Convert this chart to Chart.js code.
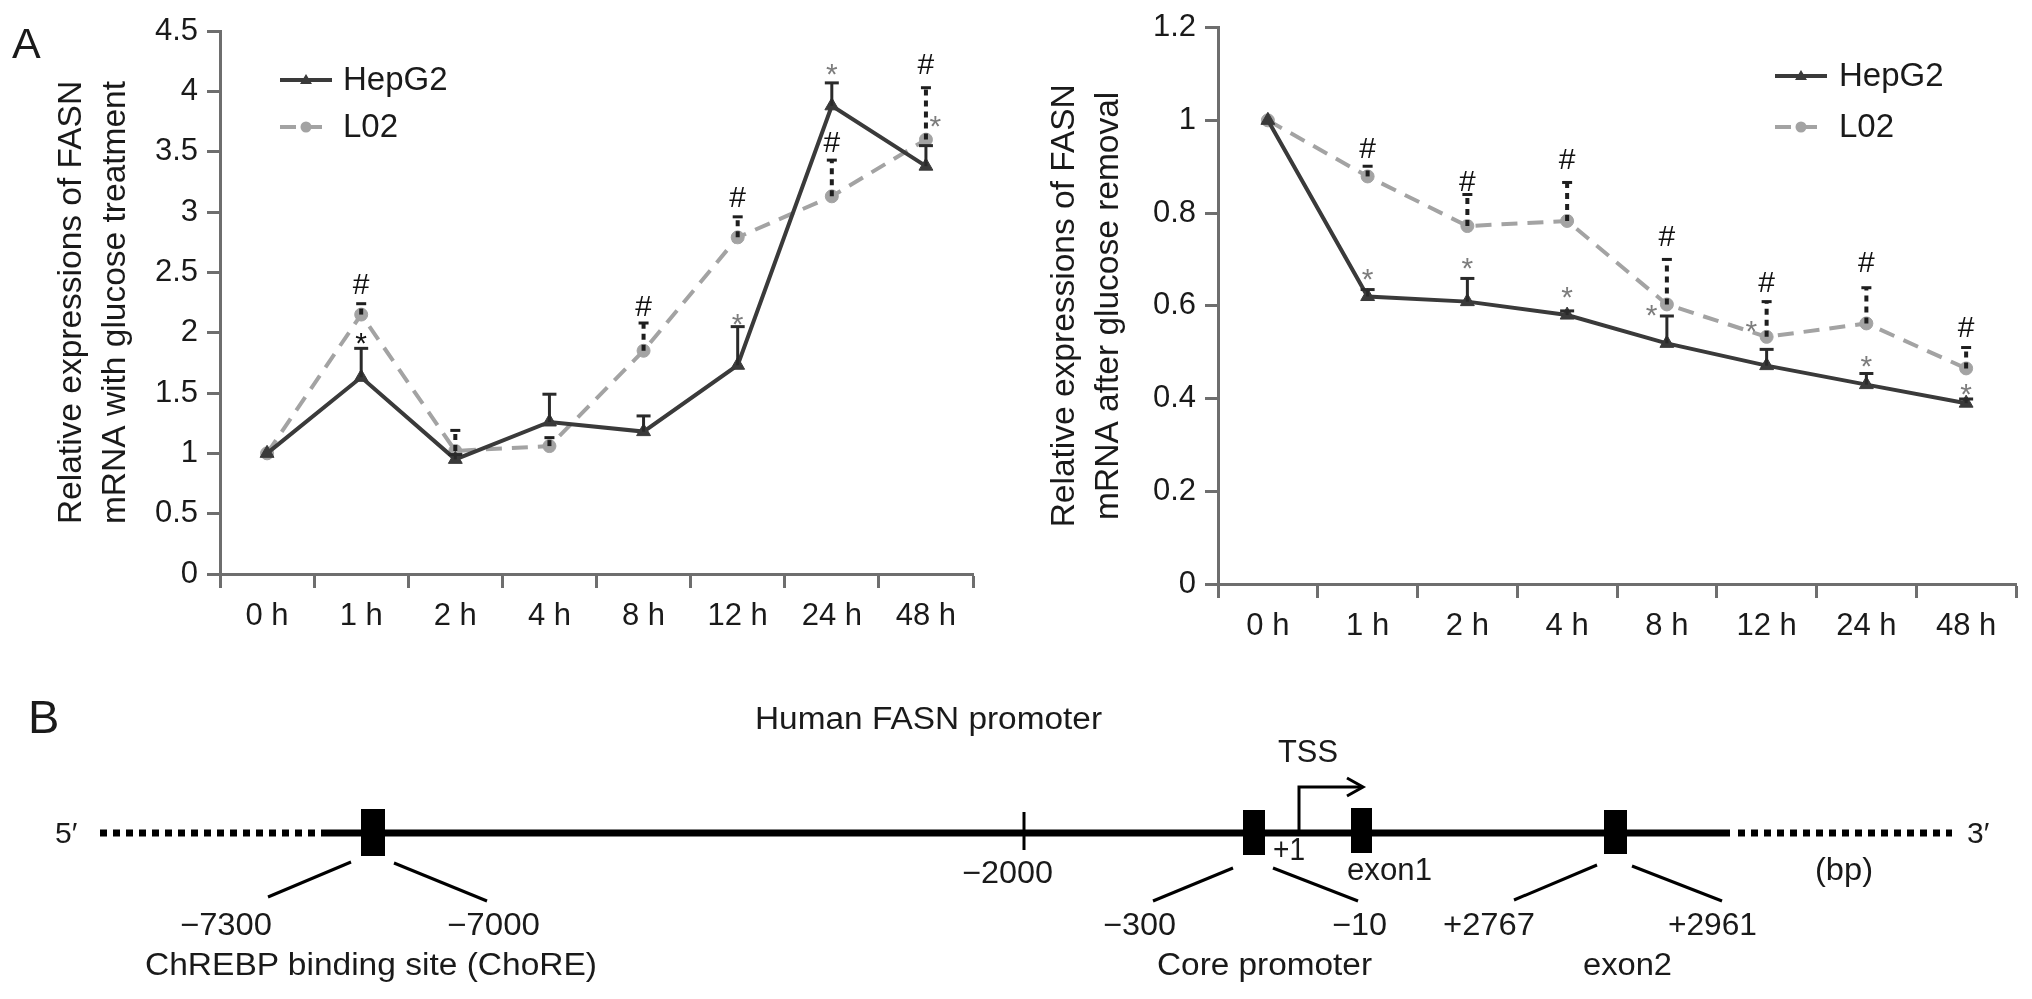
<!DOCTYPE html>
<html>
<head>
<meta charset="utf-8">
<script src="https://cdn.jsdelivr.net/npm/chart.js@4.4.1/dist/chart.umd.min.js"></script>
<style>
  html, body { margin: 0; padding: 0; background: #ffffff; }
  body { width: 2032px; height: 999px; position: relative; overflow: hidden; font-family: 'Liberation Sans', Arial, sans-serif; }
  canvas { position: absolute; }
  svg { position: absolute; left: 0; top: 0; }
</style>
</head>
<body>
<canvas id="left" width="1000" height="660" style="left:0px;top:0px;width:1000px;height:660px"></canvas>
<canvas id="right" width="1032" height="660" style="left:1000px;top:0px;width:1032px;height:660px"></canvas>
<svg width="2032" height="999" viewBox="0 0 2032 999" xmlns="http://www.w3.org/2000/svg">
  <g font-family="'Liberation Sans', Arial, sans-serif" fill="#1a1a1a">
    <text x="12" y="58" font-size="43">A</text>
    <text x="28" y="733" font-size="47">B</text>
    <text x="755" y="729" font-size="31" textLength="347" lengthAdjust="spacingAndGlyphs">Human FASN promoter</text>
    <text x="1278" y="762" font-size="31" textLength="60" lengthAdjust="spacingAndGlyphs">TSS</text>
    <text x="55" y="843" font-size="30">5′</text>
    <text x="1967" y="843" font-size="30">3′</text>
    <text x="962" y="883" font-size="31" textLength="91" lengthAdjust="spacingAndGlyphs">−2000</text>
    <text x="1273" y="860" font-size="31" textLength="32" lengthAdjust="spacingAndGlyphs">+1</text>
    <text x="1347" y="880" font-size="31" textLength="85" lengthAdjust="spacingAndGlyphs">exon1</text>
    <text x="1815" y="880" font-size="31" textLength="58" lengthAdjust="spacingAndGlyphs">(bp)</text>
    <text x="180" y="935" font-size="31" textLength="92" lengthAdjust="spacingAndGlyphs">−7300</text>
    <text x="447" y="935" font-size="31" textLength="93" lengthAdjust="spacingAndGlyphs">−7000</text>
    <text x="1103" y="935" font-size="31" textLength="73" lengthAdjust="spacingAndGlyphs">−300</text>
    <text x="1332" y="935" font-size="31" textLength="55" lengthAdjust="spacingAndGlyphs">−10</text>
    <text x="1443" y="935" font-size="31" textLength="92" lengthAdjust="spacingAndGlyphs">+2767</text>
    <text x="1668" y="935" font-size="31" textLength="89" lengthAdjust="spacingAndGlyphs">+2961</text>
    <text x="145" y="975" font-size="31" textLength="452" lengthAdjust="spacingAndGlyphs">ChREBP binding site (ChoRE)</text>
    <text x="1157" y="975" font-size="31" textLength="215" lengthAdjust="spacingAndGlyphs">Core promoter</text>
    <text x="1583" y="975" font-size="31" textLength="89" lengthAdjust="spacingAndGlyphs">exon2</text>
  </g>
  <g stroke="#000" fill="none">
    <line x1="100" y1="833" x2="328" y2="833" stroke-width="7" stroke-dasharray="7,6"/>
    <line x1="328" y1="833" x2="1730" y2="833" stroke-width="7"/>
    <line x1="1738" y1="833" x2="1952" y2="833" stroke-width="7" stroke-dasharray="7,6"/>
    <line x1="1024" y1="812" x2="1024" y2="850" stroke-width="3"/>
    <path d="M1299,832 V787 H1361" stroke-width="3"/>
    <path d="M1347,778 L1363,787 L1347,796" stroke-width="3"/>
    <line x1="351" y1="862" x2="268" y2="897" stroke-width="3"/>
    <line x1="394" y1="863" x2="487" y2="901" stroke-width="3"/>
    <line x1="1233" y1="868" x2="1153" y2="901" stroke-width="3"/>
    <line x1="1273" y1="868" x2="1358" y2="901" stroke-width="3"/>
    <line x1="1597" y1="865" x2="1514" y2="900" stroke-width="3"/>
    <line x1="1632" y1="866" x2="1722" y2="901" stroke-width="3"/>
  </g>
  <g fill="#000">
    <rect x="361" y="809" width="24" height="47"/>
    <rect x="1243" y="810" width="22" height="45"/>
    <rect x="1351" y="808" width="21" height="45"/>
    <rect x="1604" y="810" width="23" height="44"/>
  </g>
</svg>
<script>
// ---------------- data ----------------
const categories = ['0 h', '1 h', '2 h', '4 h', '8 h', '12 h', '24 h', '48 h'];
const seriesNames = ['HepG2', 'L02'];

// Panel A left: glucose treatment
const leftHepG2       = [1.00, 1.63, 0.95, 1.26, 1.18, 1.73, 3.88, 3.38];
const leftHepG2ErrTop = [1.00, 1.87, 0.99, 1.49, 1.31, 2.05, 4.07, 3.55];
const leftL02         = [1.00, 2.15, 1.02, 1.06, 1.85, 2.79, 3.13, 3.60];
const leftL02ErrTop   = [1.00, 2.24, 1.19, 1.13, 2.08, 2.96, 3.43, 4.03];
const leftTickValues  = [0, 0.5, 1, 1.5, 2, 2.5, 3, 3.5, 4, 4.5];
const leftTitle = ['Relative expressions of FASN', 'mRNA with glucose treatment'];

// Panel A right: glucose removal
const rightHepG2       = [1.00, 0.620, 0.609, 0.580, 0.519, 0.471, 0.430, 0.390];
const rightHepG2ErrTop = [1.00, 0.635, 0.659, 0.589, 0.578, 0.506, 0.454, 0.399];
const rightL02         = [1.00, 0.879, 0.772, 0.783, 0.603, 0.533, 0.562, 0.465];
const rightL02ErrTop   = [1.00, 0.901, 0.840, 0.866, 0.700, 0.609, 0.639, 0.510];
const rightTickValues  = [0, 0.2, 0.4, 0.6, 0.8, 1, 1.2];
const rightTitle = ['Relative expressions of FASN', 'mRNA after glucose removal'];

// significance marks: category index, symbol, value level, side, tone
const leftMarkCat  = [1, 1, 4, 5, 5, 6, 6, 7, 7];
const leftMarkSym  = ['#', '*', '#', '#', '*', '*', '#', '#', '*'];
const leftMarkVal  = [2.41, 1.97, 2.23, 3.13, 2.13, 4.20, 3.59, 4.23, 3.77];
const leftMarkSide = ['c', 'c', 'c', 'c', 'c', 'c', 'c', 'c', 'r'];
const leftMarkTone = ['k', 'k', 'k', 'k', 'g', 'g', 'k', 'k', 'g'];

const rightMarkCat  = [1, 1, 2, 2, 3, 3, 4, 4, 5, 5, 6, 6, 7, 7];
const rightMarkSym  = ['#', '*', '#', '*', '#', '*', '#', '*', '#', '*', '#', '*', '#', '*'];
const rightMarkVal  = [0.941, 0.674, 0.871, 0.696, 0.919, 0.635, 0.753, 0.596, 0.652, 0.561, 0.696, 0.486, 0.556, 0.425];
const rightMarkSide = ['c', 'c', 'c', 'c', 'c', 'c', 'c', 'l', 'c', 'l', 'c', 'c', 'c', 'c'];
const rightMarkTone = ['k', 'g', 'k', 'g', 'k', 'g', 'k', 'g', 'k', 'g', 'k', 'g', 'k', 'g'];

// ---------------- styles ----------------
const FONT = "'Liberation Sans', Arial, sans-serif";
const AXIS = '#6e6e6e';
const TEXT = '#1a1a1a';
const DARK = '#3a3a3a';
const LIGHT = '#a3a3a3';

const errorBarPlugin = {
  id: 'errbars',
  afterDatasetsDraw(chart, args, opts) {
    const ctx = chart.ctx;
    const xs = chart.scales.x, ys = chart.scales.y;
    opts.sets.forEach((set) => {
      ctx.save();
      ctx.strokeStyle = set.color;
      ctx.lineWidth = set.width;
      ctx.setLineDash(set.dash);
      set.vals.forEach((v, i) => {
        const top = set.tops[i];
        if (top - v < 0.005) return;
        const x = xs.getPixelForValue(i);
        const y0 = ys.getPixelForValue(v);
        const y1 = ys.getPixelForValue(top);
        ctx.beginPath();
        ctx.moveTo(x, y0);
        ctx.lineTo(x, y1);
        ctx.stroke();
        ctx.setLineDash([]);
        ctx.lineWidth = 3;
        ctx.beginPath();
        ctx.moveTo(x - set.cap, y1);
        ctx.lineTo(x + set.cap, y1);
        ctx.stroke();
        ctx.lineWidth = set.width;
        ctx.setLineDash(set.dash);
      });
      ctx.restore();
    });
    // significance marks
    const m = opts.marks;
    ctx.save();
    ctx.textAlign = 'center';
    ctx.textBaseline = 'alphabetic';
    m.cat.forEach((c, k) => {
      const sym = m.sym[k];
      const fs = 30;
      ctx.font = fs + 'px ' + FONT;
      ctx.fillStyle = m.tone[k] === 'g' ? '#7d7d7d' : '#111';
      let x = xs.getPixelForValue(c);
      const w = ctx.measureText(sym).width;
      if (m.side[k] === 'r') x += w * 0.8;
      if (m.side[k] === 'l') x -= w * 1.3;
      const yc = ys.getPixelForValue(m.val[k]);
      const yb = yc + (sym === '#' ? 0.36 : 0.57) * fs;
      ctx.fillText(sym, x, yb);
    });
    ctx.restore();
  },
  afterDraw(chart, args, opts) {
    const ctx = chart.ctx;
    const L = opts.legend;
    ctx.save();
    chart.data.datasets.forEach((ds, i) => {
      const y = L.y[i];
      ctx.strokeStyle = ds.borderColor;
      ctx.lineWidth = 4;
      ctx.setLineDash(ds.borderDash || []);
      ctx.beginPath();
      ctx.moveTo(L.x0, y);
      ctx.lineTo(L.x1, y);
      ctx.stroke();
      ctx.setLineDash([]);
      ctx.fillStyle = ds.pointBackgroundColor;
      const cx = (L.x0 + L.x1) / 2;
      ctx.beginPath();
      if (ds.pointStyle === 'triangle') {
        ctx.moveTo(cx, y - 6); ctx.lineTo(cx + 6, y + 4); ctx.lineTo(cx - 6, y + 4); ctx.closePath();
      } else {
        ctx.arc(cx, y, 5.5, 0, Math.PI * 2);
      }
      ctx.fill();
      ctx.fillStyle = TEXT;
      ctx.font = '33px ' + FONT;
      ctx.textBaseline = 'middle';
      ctx.textAlign = 'left';
      ctx.fillText(ds.label, L.tx, y + 1);
    });
    ctx.restore();
  }
};

function build(id, cfg) {
  const tickFont = { family: FONT, size: 31 };
  return new Chart(document.getElementById(id), {
    type: 'line',
    data: {
      labels: categories,
      datasets: [
        {
          label: seriesNames[0], data: cfg.hep,
          borderColor: DARK, backgroundColor: DARK, borderWidth: 4,
          pointStyle: 'triangle', pointRadius: 8, pointBackgroundColor: DARK, pointBorderColor: DARK, pointBorderWidth: 1,
          tension: 0
        },
        {
          label: seriesNames[1], data: cfg.l02,
          borderColor: LIGHT, backgroundColor: LIGHT, borderWidth: 4, borderDash: [16, 10],
          pointStyle: 'circle', pointRadius: 6.5, pointBackgroundColor: LIGHT, pointBorderColor: LIGHT, pointBorderWidth: 1,
          tension: 0
        }
      ]
    },
    options: {
      responsive: false,
      devicePixelRatio: 1,
      animation: false,
      layout: { padding: { top: cfg.padTop, right: cfg.padRight, left: 0, bottom: 0 } },
      plugins: {
        legend: { display: false },
        tooltip: { enabled: false },
        errbars: {
          sets: [
            { vals: cfg.hep, tops: cfg.hepTop, color: '#2a2a2a', dash: [], cap: 7, width: 3 },
            { vals: cfg.l02, tops: cfg.l02Top, color: '#1e1e1e', dash: [6, 5], cap: 5, width: 4 }
          ],
          marks: cfg.marks,
          legend: cfg.legend
        }
      },
      scales: {
        x: {
          type: 'category',
          offset: true,
          grid: { offset: true, drawOnChartArea: false, tickLength: 14, tickWidth: 3, tickColor: AXIS },
          border: { color: AXIS, width: 3 },
          ticks: { font: tickFont, color: TEXT, padding: 10, maxRotation: 0, autoSkip: false },
          afterFit(s) { s.height = cfg.xHeight; }
        },
        y: {
          min: 0, max: cfg.max,
          afterBuildTicks(s) { s.ticks = cfg.ticks.map(v => ({ value: v })); },
          ticks: { font: tickFont, color: TEXT, padding: 9, callback: v => String(+(+v).toFixed(1)) },
          grid: { drawOnChartArea: false, tickLength: 13, tickWidth: 3, tickColor: AXIS },
          border: { color: AXIS, width: 3 },
          title: {
            display: true, text: cfg.title, color: TEXT,
            font: { family: FONT, size: 33.5, lineHeight: 1.31 },
            padding: { top: cfg.titlePad, bottom: 0 }
          },
          afterFit(s) { s.width = cfg.yWidth; }
        }
      }
    },
    plugins: [errorBarPlugin]
  });
}

build('left', {
  hep: leftHepG2, hepTop: leftHepG2ErrTop, l02: leftL02, l02Top: leftL02ErrTop,
  max: 4.5, ticks: leftTickValues, title: leftTitle,
  padTop: 31, padRight: 27, xHeight: 86, yWidth: 220, titlePad: 50,
  marks: { cat: leftMarkCat, sym: leftMarkSym, val: leftMarkVal, side: leftMarkSide, tone: leftMarkTone },
  legend: { x0: 280, x1: 332, tx: 343, y: [80, 127] }
});

build('right', {
  hep: rightHepG2, hepTop: rightHepG2ErrTop, l02: rightL02, l02Top: rightL02ErrTop,
  max: 1.2, ticks: rightTickValues, title: rightTitle,
  padTop: 24, padRight: 16, xHeight: 76, yWidth: 218, titlePad: 43,
  marks: { cat: rightMarkCat, sym: rightMarkSym, val: rightMarkVal, side: rightMarkSide, tone: rightMarkTone },
  legend: { x0: 775, x1: 827, tx: 839, y: [76, 127] }
});
</script>
</body>
</html>
